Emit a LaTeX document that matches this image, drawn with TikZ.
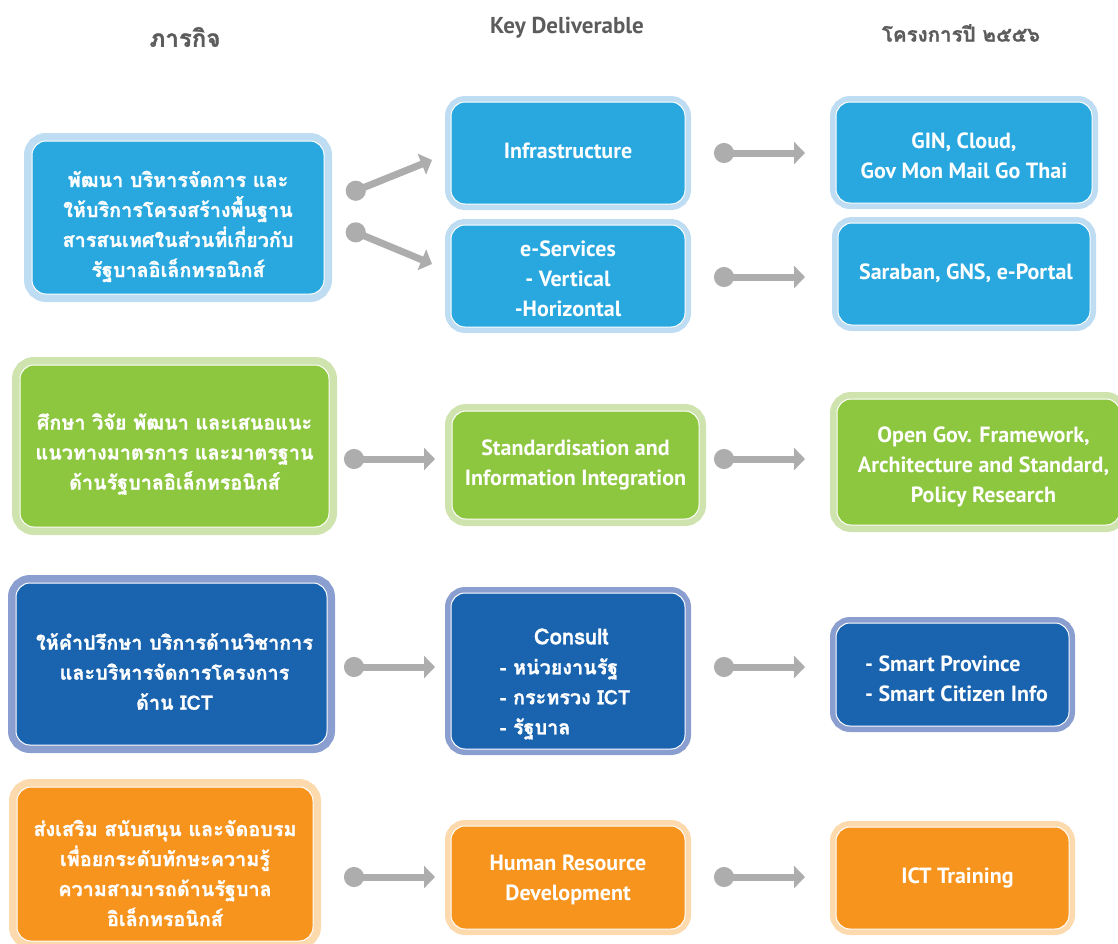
\documentclass[tikz,border=0pt]{standalone}
\usepackage{fontspec}
\setmainfont{PT Sans}
\newfontfamily\thaifont[Script=Thai, BoldFeatures={FakeBold=1.2}]{Loma}
\usetikzlibrary{arrows.meta}

\definecolor{skyfill}{HTML}{29A8E0}
\definecolor{skyhalo}{HTML}{BFDDF2}
\definecolor{leaf}{HTML}{8DC63F}
\definecolor{leafhalo}{HTML}{CFE3AE}
\definecolor{navy}{HTML}{1A64AF}
\definecolor{navyhalo}{HTML}{8A9ECF}
\definecolor{amber}{HTML}{F7941E}
\definecolor{amberhalo}{HTML}{FDDAAE}
\definecolor{wire}{HTML}{ADADAD}
\definecolor{heading}{HTML}{5C5C5C}

\newcommand\cardfont{\fontsize{22}{30}\selectfont\bfseries}
\newcommand\cardthai{\thaifont\fontsize{19.8}{30}\selectfont\bfseries}

\begin{document}
\begin{tikzpicture}[x=1pt,y=-1pt,
  card/.style n args={3}{rounded corners=14pt, fill=#1, draw=white, line width=1pt,
    preaction={draw=#2, line width=#3}, inner sep=0pt},
  sky/.style={card={skyfill}{skyhalo}{12pt}},
  skywide/.style={card={skyfill}{skyhalo}{16pt}},
  leafbox/.style={card={leaf}{leafhalo}{14pt}},
  leafwide/.style={card={leaf}{leafhalo}{16pt}},
  navybox/.style={card={navy}{navyhalo}{12pt}},
  navywide/.style={card={navy}{navyhalo}{16pt}},
  amberbox/.style={card={amber}{amberhalo}{12pt}},
  amberwide/.style={card={amber}{amberhalo}{16pt}},
  cardtext/.style={text=white, align=center, inner sep=0pt, font=\cardfont},
  thaitext/.style={cardtext, font=\cardthai},
  link/.style={draw=wire, line width=7pt,
    {Circle[length=20pt,width=20pt]}-{Triangle[length=11pt,width=22pt]}},
  head/.style={text=heading, inner sep=0pt}
]
\useasboundingbox (0,0) rectangle (1118,943);

% column headings
\node[head, font=\thaifont\fontsize{24}{28}\selectfont\bfseries] (h1) at (185,37) {ภารกิจ};
\node[head, font=\fontsize{23}{26}\selectfont\bfseries] (h2) at (567,28) {Key Deliverable};
\node[head, font=\thaifont\fontsize{20.5}{24}\selectfont\bfseries] (h3) at (961,33) {โครงการปี ๒๕๕๖};

% row 1: infrastructure
\node[skywide, minimum width=292pt, minimum height=153pt] (L1) at (178,217.5) {};
\node[thaitext] (L1t) at ([shift={(0,9)}]L1.center)
  {พัฒนา บริหารจัดการ และ\\ให้บริการโครงสร้างพื้นฐาน\\สารสนเทศในส่วนที่เกี่ยวกับ\\รัฐบาลอิเล็กทรอนิกส์};
\node[sky, minimum width=234pt, minimum height=102pt] (M1) at (568,153) {};
\node[cardtext] (M1t) at ([shift={(0,-2)}]M1.center) {Infrastructure};
\node[sky, minimum width=234pt, minimum height=102pt] (M2) at (568,276) {};
\node[cardtext] (M2t) at ([shift={(0,2.5)}]M2.center) {e-Services\\- Vertical\\-Horizontal};
\node[sky, minimum width=256pt, minimum height=101pt] (R1) at (964,152.5) {};
\node[cardtext] (R1t) at ([shift={(0,3.5)}]R1.center) {GIN, Cloud,\\Gov Mon Mail Go Thai};
\node[sky, minimum width=252pt, minimum height=102pt] (R2) at (964,274) {};
\node[cardtext] (R2t) at ([shift={(2,-1)}]R2.center) {Saraban, GNS, e-Portal};

% row 2: standards
\node[leafwide, minimum width=309pt, minimum height=162pt] (L2) at (174.5,446) {};
\node[thaitext] (L2t) at ([shift={(0,8)}]L2.center)
  {ศึกษา วิจัย พัฒนา และเสนอแนะ\\แนวทางมาตรการ และมาตรฐาน\\ด้านรัฐบาลอิเล็กทรอนิกส์};
\node[leafbox, minimum width=247pt, minimum height=108pt] (M3) at (575.5,465) {};
\node[cardtext] (M3t) at (M3.center) {Standardisation and\\Information Integration};
\node[leafbox, minimum width=283pt, minimum height=126pt] (R3) at (978.5,462) {};
\node[cardtext] (R3t) at ([shift={(5,5)}]R3.center) {Open Gov. Framework,\\Architecture and Standard,\\Policy Research};

% row 3: consulting
\node[navywide, minimum width=311pt, minimum height=162pt] (L3) at (171.5,664) {};
\node[thaitext] (L3t) at ([shift={(3,7.5)}]L3.center)
  {ให้คำปรึกษา บริการด้านวิชาการ\\และบริหารจัดการโครงการ\\ด้าน ICT};
\node[navybox, minimum width=234pt, minimum height=156pt] (M4) at (568,671) {};
\node[thaitext, align=left] (M4t) at ([shift={(-3,13)}]M4.center)
  {\hspace*{34pt}{\cardfont Consult}\\- หน่วยงานรัฐ\\- กระทรวง ICT\\- รัฐบาล};
\node[navybox, minimum width=233pt, minimum height=103pt] (R4) at (952.5,674.5) {};
\node[cardtext, align=left] (R4t) at ([shift={(4,4)}]R4.center)
  {- Smart Province\\- Smart Citizen Info};

% row 4: training
\node[amberwide, minimum width=296pt, minimum height=154pt] (L4) at (165,864) {};
\node[thaitext] (L4t) at ([shift={(0,9)}]L4.center)
  {ส่งเสริม สนับสนุน และจัดอบรม\\เพื่อยกระดับทักษะความรู้\\ความสามารถด้านรัฐบาล\\อิเล็กทรอนิกส์};
\node[amberbox, minimum width=234pt, minimum height=103pt] (M5) at (568,877.5) {};
\node[cardtext] (M5t) at ([shift={(0,2)}]M5.center) {Human Resource\\Development};
\node[amberbox, minimum width=233pt, minimum height=102pt] (R5) at (952.5,878) {};
\node[cardtext] (R5t) at ([shift={(5,0)}]R5.center) {ICT Training};

% connectors
\draw[link] ([shift={(22,-23)}]L1.east) -- ([shift={(-18.5,7)}]M1.west);
\draw[link] ([shift={(22,11)}]L1.east) -- ([shift={(-18.5,-12)}]M2.west);
\draw[link] ([shift={(28.5,0)}]M1.east) -- ([shift={(-30.5,0.5)}]R1.west);
\draw[link] ([shift={(28.5,1)}]M2.east) -- ([shift={(-32.5,3)}]R2.west);

\draw[link] ([shift={(14.5,13)}]L2.east) -- ([shift={(-16.5,-6)}]M3.west);
\draw[link] ([shift={(14.5,-6)}]M3.east) -- ([shift={(-31.5,-3)}]R3.west);

\draw[link] ([shift={(16.5,3)}]L3.east) -- ([shift={(-15.5,-4)}]M4.west);
\draw[link] ([shift={(28.5,-4)}]M4.east) -- ([shift={(-30.5,-7.5)}]R4.west);

\draw[link] ([shift={(30.5,13)}]L4.east) -- ([shift={(-15.5,-0.5)}]M5.west);
\draw[link] ([shift={(28.5,-0.5)}]M5.east) -- ([shift={(-30.5,-1)}]R5.west);
\end{tikzpicture}
\end{document}
